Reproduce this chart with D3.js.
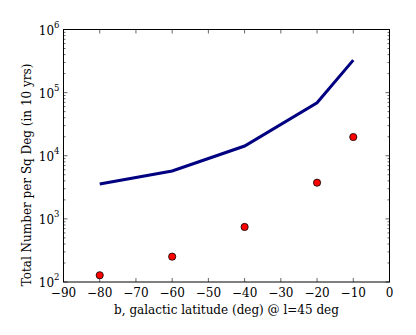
<!DOCTYPE html>
<html>
<head>
<meta charset="utf-8">
<script src="https://d3js.org/d3.v7.min.js"></script>
<style>
  body { margin: 0; background: #fff; }
  text { font-family: "DejaVu Serif", serif; fill: #000; }
</style>
</head>
<body>
<svg width="416" height="335"></svg>
<script>
// latitude values (deg)
var lineLat = [-80, -60, -40, -20, -10];
var lineTotal = [3560, 5730, 14250, 69000, 327000];
var dotLat = [-80, -60, -40, -20, -10];
var dotTotal = [128, 252, 745, 3740, 19800];
var xTicks = [-90, -80, -70, -60, -50, -40, -30, -20, -10, 0];
var yDecades = [2, 3, 4, 5, 6];

var svg = d3.select("svg");
var pLeft = 63.5, pRight = 389.5, pTop = 29.5, pBottom = 282;

var x = d3.scaleLinear().domain([-90, 0]).range([pLeft, pRight]);
var y = d3.scaleLog().domain([100, 1e6]).range([pBottom, pTop]);

// ticks (inward, all sides)
var g = svg.append("g").attr("stroke", "#000").attr("stroke-width", 0.6);
xTicks.forEach(function(t) {
  g.append("line").attr("x1", x(t)).attr("x2", x(t)).attr("y1", pBottom).attr("y2", pBottom - 4);
  g.append("line").attr("x1", x(t)).attr("x2", x(t)).attr("y1", pTop).attr("y2", pTop + 4);
});
var minor = [];
for (var e = 2; e < 6; e++) for (var m = 2; m < 10; m++) minor.push(m * Math.pow(10, e));
minor.forEach(function(v) {
  g.append("line").attr("x1", pLeft).attr("x2", pLeft + 2).attr("y1", y(v)).attr("y2", y(v));
  g.append("line").attr("x1", pRight).attr("x2", pRight - 2).attr("y1", y(v)).attr("y2", y(v));
});
yDecades.forEach(function(d) {
  var v = Math.pow(10, d);
  g.append("line").attr("x1", pLeft).attr("x2", pLeft + 4).attr("y1", y(v)).attr("y2", y(v));
  g.append("line").attr("x1", pRight).attr("x2", pRight - 4).attr("y1", y(v)).attr("y2", y(v));
});

// frame
svg.append("rect").attr("x", pLeft).attr("y", pTop)
  .attr("width", pRight - pLeft).attr("height", pBottom - pTop)
  .attr("fill", "none").attr("stroke", "#000").attr("stroke-width", 1);

// line
var line = d3.line().x(function(d, i) { return x(lineLat[i]); }).y(function(d) { return y(d); });
svg.append("path").datum(lineTotal).attr("d", line)
  .attr("fill", "none").attr("stroke", "#000080").attr("stroke-width", 3);

// dots
svg.selectAll("circle.dot").data(dotTotal).enter().append("circle")
  .attr("class", "dot")
  .attr("cx", function(d, i) { return x(dotLat[i]); })
  .attr("cy", function(d) { return y(d); })
  .attr("r", 3.6)
  .attr("fill", "#ff0000").attr("stroke", "#000").attr("stroke-width", 0.8);

// x tick labels
svg.selectAll("text.xt").data(xTicks).enter().append("text")
  .attr("class", "xt")
  .attr("x", function(d) { return x(d); })
  .attr("y", pBottom + 15)
  .attr("text-anchor", "middle")
  .attr("font-size", 12)
  .text(function(d) { return d < 0 ? "\u2212" + (-d) : d; });

// y tick labels
yDecades.forEach(function(d) {
  var t = svg.append("text").attr("x", pLeft - 4).attr("y", y(Math.pow(10, d)) + 5)
    .attr("text-anchor", "end").attr("font-size", 12);
  t.append("tspan").text("10");
  t.append("tspan").attr("font-size", 8.5).attr("dy", -7).text(d);
});

svg.append("text").attr("x", (pLeft + pRight) / 2).attr("y", 314)
  .attr("text-anchor", "middle").attr("font-size", 12)
  .text("b, galactic latitude (deg) @ l=45 deg");

svg.append("text").attr("transform", "translate(31,175) rotate(-90)")
  .attr("text-anchor", "middle").attr("font-size", 12)
  .text("Total Number per Sq Deg (in 10 yrs)");
</script>
</body>
</html>
